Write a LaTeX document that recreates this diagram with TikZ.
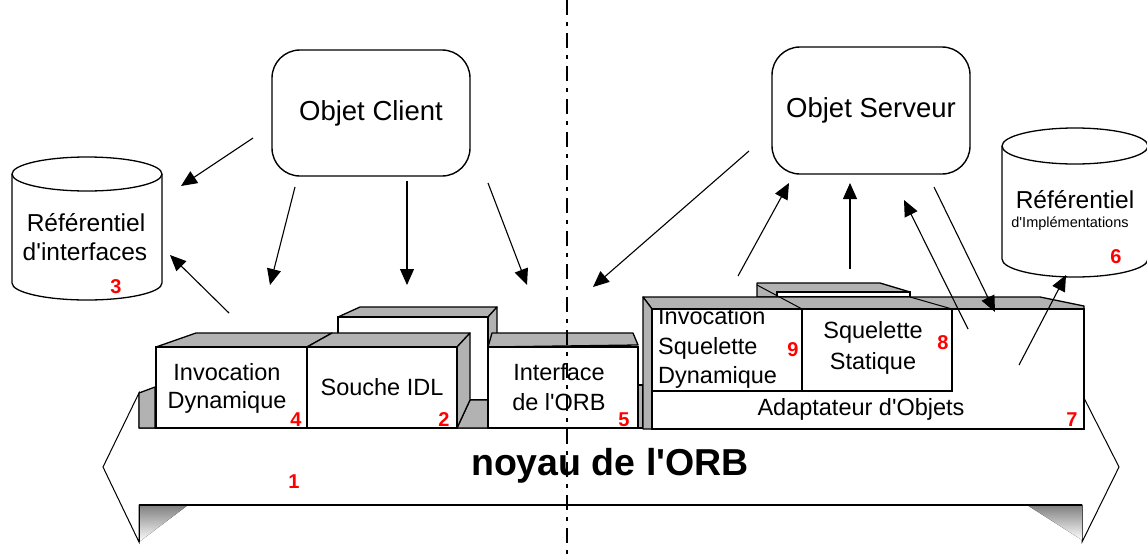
\documentclass[tikz,border=0pt]{standalone}
\usepackage{fontspec}
\setmainfont{Liberation Sans}
\usetikzlibrary{arrows.meta}
\definecolor{shade}{RGB}{178,178,178}
\definecolor{numred}{RGB}{255,0,0}
\newcommand{\qs}{\textquotesingle}
\begin{document}
\begin{tikzpicture}[x=1pt,y=-1pt,
  lbl/.style={inner sep=0pt, font=\fontsize{23.5}{27}\selectfont},
  num/.style={inner sep=0pt, text=numred, font=\fontsize{20}{20}\selectfont\bfseries},
  obj/.style={draw, line width=1.4pt, rounded corners=28pt, inner sep=0pt,
    font=\fontsize{27.5}{30}\selectfont},
  conn/.style={line width=1.1pt, -{Triangle[length=16pt,width=14pt]}},
  face/.style={fill=shade, draw=black, line width=1.3pt, line join=round},
  front/.style={fill=white, draw=black, line width=1.6pt},
  cyl/.style={fill=white, draw=black, line width=1.3pt},
  axis/.style={line width=1.6pt, dash pattern=on 15pt off 7pt on 4pt off 7pt}
  ]
\useasboundingbox (0,0) rectangle (1147,557);

% ---------- repositories (cylinders) ----------
\draw[cyl] (12,174) -- (12,283) .. controls (12,292.4) and (45.6,300) .. (87,300)
  .. controls (128.4,300) and (162,292.4) .. (162,283) -- (162,174);
\draw[cyl] (87,174) ellipse [x radius=75pt, y radius=17pt];
\node[lbl, font=\fontsize{24.5}{27}\selectfont] (rint1) at (86,223) {Référentiel};
\node[lbl, font=\fontsize{24.5}{27}\selectfont] (rint2) at (85,252) {d\qs interfaces};
\node[num] (n3) at (116,287) {3};

\draw[cyl] (1002,146) -- (1002,259) .. controls (1002,268.9) and (1034.7,277) .. (1075,277)
  .. controls (1115.3,277) and (1148,268.9) .. (1148,259) -- (1148,146);
\draw[cyl] (1075,146) ellipse [x radius=73pt, y radius=18pt];
\node[lbl, font=\fontsize{24.5}{27}\selectfont] (rimp1) at (1075,200) {Référentiel};
\node[inner sep=0pt, font=\fontsize{14.5}{16}\selectfont] (rimp2) at (1070,224) {d\qs Implémentations};
\node[num] (n6) at (1116,257) {6};

% ---------- client / server objects ----------
\node[obj, minimum width=198pt, minimum height=126pt] (client) at (371,113) {Objet Client};
\node[obj, minimum width=198pt, minimum height=127pt] (server) at (871,110.5) {Objet Serveur};

% ---------- ORB core (double arrow) ----------
\draw[fill=white, line width=1pt, line join=miter]
  (103,467) -- (139,393) -- (139,428) -- (1084,428) -- (1084,398) -- (1119,467)
  -- (1082,542) -- (1082,505) -- (139,505) -- (139,542) -- cycle;
\fill[shade] (139,505) -- (188,505) -- (139,542) -- cycle;
\fill[shade] (1027,505) -- (1082,505) -- (1082,540) -- cycle;
\draw[line width=1pt] (139,505) -- (139,542);
\draw[line width=1.3pt] (139,505) -- (1082,505);
\node[inner sep=0pt, font=\fontsize{37.5}{40}\selectfont\bfseries] (noyau) at (610,466) {noyau de l\qs ORB};
\node[num] (n1) at (294,482) {1};

% ---------- client-side boxes ----------
\draw[face] (139,393) -- (155,387) -- (155,428) -- (139,428) -- cycle;
% back box behind the IDL stub
\draw[face] (338,317) -- (360,307) -- (497,307) -- (488,317) -- cycle;
\draw[face] (488,317) -- (497,307) -- (497,400) -- (488,400) -- cycle;
\draw[front] (338,317) rectangle (488,400);
% Invocation Dynamique
\draw[face] (156,347) -- (196,333) -- (332,333) -- (307,347) -- cycle;
\draw[front] (156,347) rectangle (307,428);
% Souche IDL
\draw[face] (307,347) -- (332,333) -- (470,333) -- (457,347) -- cycle;
\draw[face] (457,428) -- (470,400) -- (488,400) -- (488,428) -- cycle;
\draw[face] (457,347) -- (470,333) -- (470,400) -- (457,428) -- cycle;
\draw[front] (307,347) rectangle (457,428);
% Interface de l'ORB
\draw[face] (488,347) -- (492,333) -- (633,333) -- (638,345) -- cycle;
\draw[face] (638,385) rectangle (643,428);
\draw[front] (488,347) rectangle (638,428);

\node[lbl] (inv1) at (227,372) {Invocation};
\node[lbl] (inv2) at (227,402) {Dynamique};
\node[num] (n4) at (296,420) {4};
\node[lbl] (souche) at (382,387) {Souche IDL};
\node[num] (n2) at (444,420) {2};
\node[lbl] (itf1) at (559,372) {Interface};
\node[lbl] (itf2) at (559,402) {de l\qs ORB};
\node[num] (n5) at (624,420) {5};

% ---------- object adapter ----------
\draw[face] (757,283) -- (880,283) -- (910,292) -- (910,297) -- (757,297) -- cycle;
\draw[line width=1.2pt, fill=white] (777,292) rectangle (910,297);
\draw[face] (643,297) -- (1040,297) -- (1084,306) -- (1084,309) -- (652,309) -- cycle;
\draw[face] (643,297) -- (652,309) -- (652,429) -- (643,429) -- cycle;
\draw[front] (652,309) rectangle (1084,429);
\draw[line width=1.5pt] (652,391) -- (952,391) -- (952,309);
\draw[line width=1.5pt] (802,309) -- (802,391);
\draw[line width=1pt] (757,285) -- (802,309);
\draw[line width=1pt] (910,297) -- (952,309);

\begin{scope}
  \clip (652,310) rectangle (802,391);
  \node[lbl, anchor=west] (isd1) at (658,316) {Invocation};
  \node[lbl, anchor=west] (isd2) at (658,348) {Squelette};
  \node[lbl, anchor=west] (isd3) at (658,377) {Dynamique};
\end{scope}
\node[num] (n9) at (793,350) {9};
\node[lbl] (ss1) at (873,332) {Squelette};
\node[lbl] (ss2) at (873,363) {Statique};
\node[num] (n8) at (943,343) {8};
\node[lbl] (adapt) at (861,409) {Adaptateur d\qs Objets};
\node[num] (n7) at (1072,420) {7};

% ---------- connectors ----------
\coordinate (c1a) at (253,138);  \coordinate (c1b) at (181,186);
\coordinate (c2a) at (295,187);  \coordinate (c2b) at (270,285);
\coordinate (c3a) at (407,181);  \coordinate (c3b) at (407,285);
\coordinate (c4a) at (488,183);  \coordinate (c4b) at (527,285);
\coordinate (c5a) at (229,313);  \coordinate (c5b) at (170,255);
\coordinate (s1a) at (749,151);  \coordinate (s1b) at (593,287);
\coordinate (s2a) at (738,276);  \coordinate (s2b) at (789,183);
\coordinate (s3a) at (850,269);  \coordinate (s3b) at (850,183);
\coordinate (s4a) at (968,329);  \coordinate (s4b) at (904,200);
\coordinate (s5a) at (934,187);  \coordinate (s5b) at (995,312);
\coordinate (s6a) at (1019,365); \coordinate (s6b) at (1066,275);
\foreach \a in {c1,c2,c3,c4,c5,s1,s2,s3,s4,s5,s6}
  \draw[conn] (\a a) -- (\a b);

% ---------- client / server separation ----------
\coordinate (sepT) at (567,0);
\coordinate (sepB) at (567,557);
\draw[axis] (sepT) -- (sepB);
\end{tikzpicture}
\end{document}
